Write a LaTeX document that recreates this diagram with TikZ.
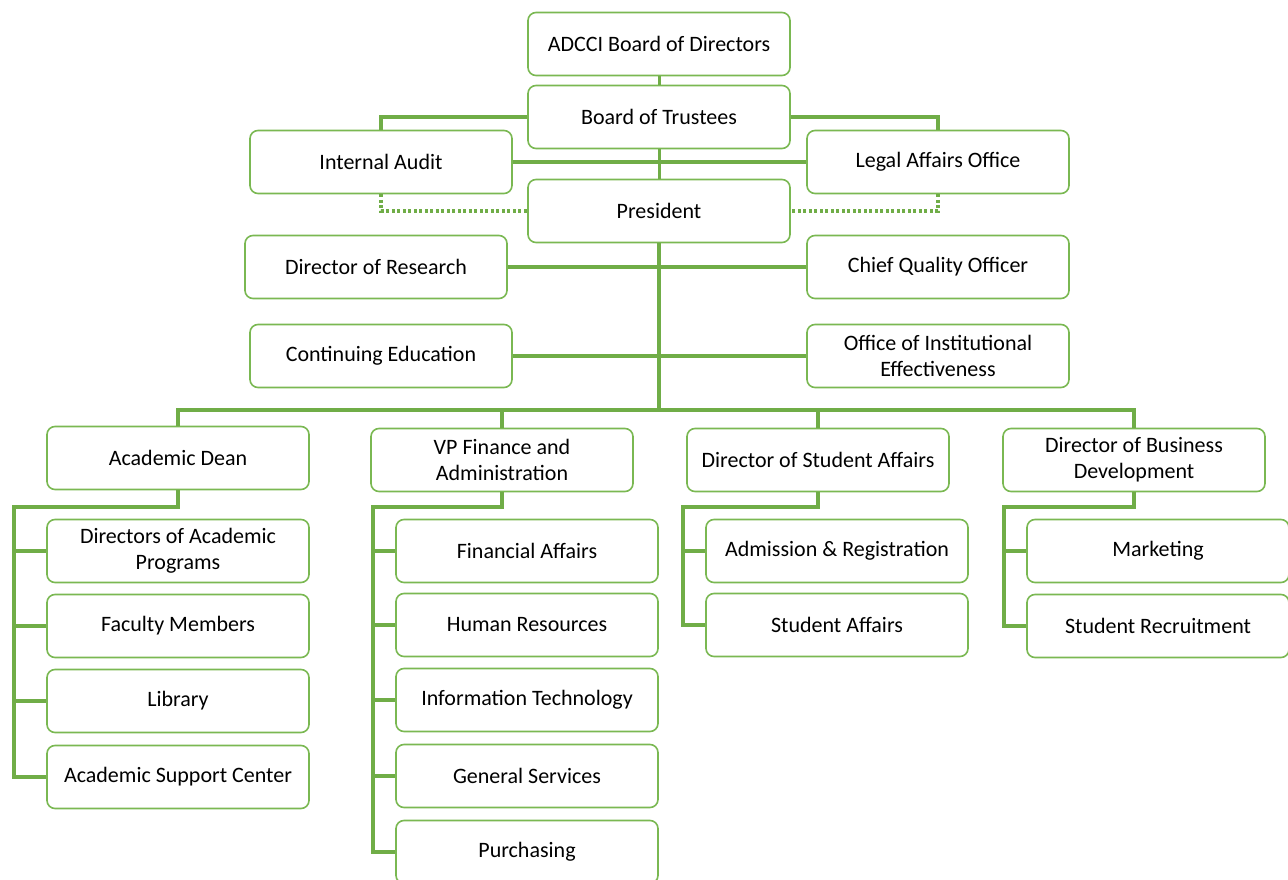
\documentclass[tikz,border=0pt]{standalone}
\usepackage{fontspec}
\setmainfont{Carlito}
\definecolor{orggreen}{RGB}{112,173,71}
\definecolor{boxgreen}{RGB}{122,184,82}
\tikzset{
  unit/.style={draw=boxgreen, line width=1.6pt, rounded corners=8pt, fill=white,
    minimum width=262pt, minimum height=63pt, align=center,
    font=\fontsize{22}{26}\selectfont},
  link/.style={draw=orggreen, line width=4.5pt},
  thinlink/.style={draw=orggreen, line width=3pt},
  dotlink/.style={draw=orggreen, line width=3.5pt, dash pattern=on 3pt off 2.5pt}
}
\begin{document}
\begin{tikzpicture}[x=1pt,y=-1pt]
    \useasboundingbox (0,0) rectangle (1288,880);
    % top levels
    \node[unit] (board)     at (659,44)  {ADCCI Board of Directors};
    \node[unit] (trustees)  at (659,117) {Board of Trustees};
    \node[unit] (audit)     at (381,162) {Internal Audit};
    \node[unit] (legal)     at (938,162) {Legal Affairs Office};
    \node[unit] (president) at (659,211) {President};
    \node[unit] (research)  at (376,267) {Director of Research};
    \node[unit] (quality)   at (938,267) {Chief Quality Officer};
    \node[unit] (contedu)   at (381,356) {Continuing Education};
    \node[unit] (oie)       at (938,356) {Office of Institutional\\Effectiveness};
    % heads
    \node[unit] (dean)   at (178,458)  {Academic Dean};
    \node[unit] (vpfin)  at (502,460)  {VP Finance and\\Administration};
    \node[unit] (stuaff) at (818,460)  {Director of Student Affairs};
    \node[unit] (bizdev) at (1134,460) {Director of Business\\Development};
    % units
    \node[unit] (dap)     at (178,551) {Directors of Academic\\Programs};
    \node[unit] (faculty) at (178,626) {Faculty Members};
    \node[unit] (library) at (178,701) {Library};
    \node[unit] (asc)     at (178,777) {Academic Support Center};
    \node[unit] (finaff)  at (527,551) {Financial Affairs};
    \node[unit] (hr)      at (527,625) {Human Resources};
    \node[unit] (it)      at (527,700) {Information Technology};
    \node[unit] (gs)      at (527,776) {General Services};
    \node[unit] (purch)   at (527,852) {Purchasing};
    \node[unit] (admreg)  at (837,551) {Admission \& Registration};
    \node[unit] (stuaf)   at (837,625) {Student Affairs};
    \node[unit] (mkt)     at (1158,551) {Marketing};
    \node[unit] (recruit) at (1158,626) {Student Recruitment};
    % connectors
    \coordinate (bus) at (659,410);
    \coordinate (deanelbow) at (14,507);
    \coordinate (vpelbow) at (373,507);
    \coordinate (stuelbow) at (683,507);
    \coordinate (bizelbow) at (1004,507);
    \draw[thinlink] (board.south) -- (trustees.north);
    \draw[link] (trustees.west) -| (audit.north);
    \draw[link] (trustees.east) -| (legal.north);
    \draw[thinlink] (trustees.south) -- (president.north);
    \draw[link] (audit.east) -- (legal.west);
    \draw[dotlink] (audit.south) |- (president.west);
    \draw[dotlink] (legal.south) |- (president.east);
    \draw[link] (president.south) -- (bus);
    \draw[link] (research.east) -- (quality.west);
    \draw[link] (contedu.east) -- (oie.west);
    \draw[link] (dean.north) |- (bus) -| (bizdev.north);
    \draw[link] (vpfin.north) -- (vpfin.north |- bus);
    \draw[link] (stuaff.north) -- (stuaff.north |- bus);
    % branch spines
    \draw[link] (dean.south) |- (deanelbow) |- (asc.west);
    \foreach \k in {dap,faculty,library}
      \draw[link] (deanelbow |- \k.west) -- (\k.west);
    \draw[link] (vpfin.south) |- (vpelbow) |- (purch.west);
    \foreach \k in {finaff,hr,it,gs}
      \draw[link] (vpelbow |- \k.west) -- (\k.west);
    \draw[link] (stuaff.south) |- (stuelbow) |- (stuaf.west);
    \draw[link] (stuelbow |- admreg.west) -- (admreg.west);
    \draw[link] (bizdev.south) |- (bizelbow) |- (recruit.west);
    \draw[link] (bizelbow |- mkt.west) -- (mkt.west);
    \end{tikzpicture}
\end{document}
